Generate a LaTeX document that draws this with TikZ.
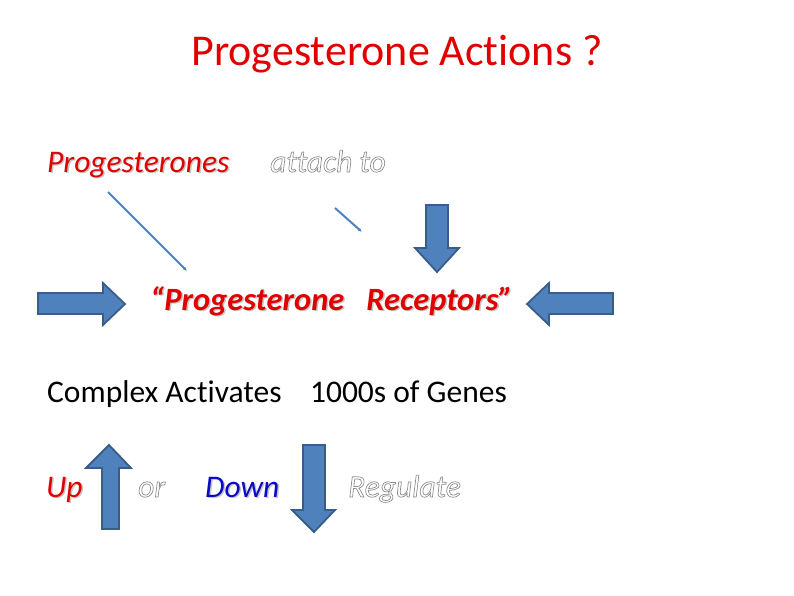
\documentclass[tikz,border=0pt]{standalone}
\usepackage{fontspec}
\setmainfont[Ligatures=NoCommon]{Carlito}
\usetikzlibrary{arrows.meta}

\definecolor{slideRed}{RGB}{224,0,0}
\definecolor{slideBlue}{RGB}{10,10,200}
\definecolor{arrowFill}{RGB}{79,129,189}
\definecolor{arrowEdge}{RGB}{56,93,138}

% red or blue words with a soft grey drop shadow
\newcommand{\shadowtext}[2]{\makebox[0pt][l]{\kern1.5pt\raisebox{-1.5pt}{\textcolor{black!22}{#2}}}\textcolor{#1}{#2}}
% hollow words, grey rim only
\newcommand{\ghosttext}[1]{\special{pdf:literal direct 1 Tr 0.7 w 0.55 G}#1\special{pdf:literal direct 0 Tr 0 G}}

\begin{document}
\begin{tikzpicture}[x=1pt,y=-1pt,
	every node/.style={inner sep=0pt},
	bodytext/.style={font=\fontsize{31.5}{36}\selectfont},
	blockarrow/.style={draw=arrowEdge,fill=arrowFill,line width=1.8pt,line join=miter},
	thinlink/.style={draw=arrowFill,line width=2pt,-{Latex[length=4pt,width=3.5pt]}}]
		\useasboundingbox (0,0) rectangle (794,595);
		% title
		\node (title) [anchor=base,font=\fontsize{44}{50}\selectfont,text=slideRed] at (397,65) {Progesterone Actions ?};
		% first line
		\node (progs) [anchor=base west,bodytext] at (47,172) {\shadowtext{slideRed}{\itshape Progesterones}};
		\node (attach) [anchor=base west,bodytext] at (270,172) {\ghosttext{\itshape attach to}};
		\coordinate (progsTail) at (108,192);
		\coordinate (progsHead) at (187,271);
		\coordinate (attachTail) at (335,208);
		\coordinate (attachHead) at (362,232);
		\draw [thinlink] (progsTail) -- (progsHead);
		\draw [thinlink] (attachTail) -- (attachHead);
		\draw [blockarrow] (426,205) -- (448,205) -- (448,248) -- (459,248) -- (437,272) -- (415,248) -- (426,248) -- cycle;
		% receptors
		\node (receptors) [anchor=base west,font=\fontsize{32.5}{36}\selectfont] at (150,310) {\shadowtext{slideRed}{\bfseries\itshape “Progesterone~~~Receptors”}};
		\draw [blockarrow] (38,293) -- (103,293) -- (103,283) -- (125,304) -- (103,325) -- (103,314) -- (38,314) -- cycle;
		\draw [blockarrow] (613,293) -- (549,293) -- (549,283) -- (527,304) -- (549,325) -- (549,314) -- (613,314) -- cycle;
		% genes
		\node (genes) [anchor=base west,bodytext] at (47,402) {Complex Activates~~~~1000s of Genes};
		% up or down
		\node (up) [anchor=base west,bodytext] at (46,497) {\shadowtext{slideRed}{\itshape Up}};
		\node (or) [anchor=base west,bodytext] at (138,497) {\ghosttext{\itshape or}};
		\node (down) [anchor=base west,bodytext] at (205,497) {\shadowtext{slideBlue}{\itshape Down}};
		\node (regulate) [anchor=base west,bodytext] at (348,497) {\ghosttext{\itshape Regulate}};
		\draw [blockarrow] (102,529) -- (102,468) -- (86,468) -- (109,445) -- (131,468) -- (119,468) -- (119,529) -- cycle;
		\draw [blockarrow] (303,445) -- (325,445) -- (325,510) -- (335,510) -- (314,532) -- (292,510) -- (303,510) -- cycle;
	\end{tikzpicture}
\end{document}
